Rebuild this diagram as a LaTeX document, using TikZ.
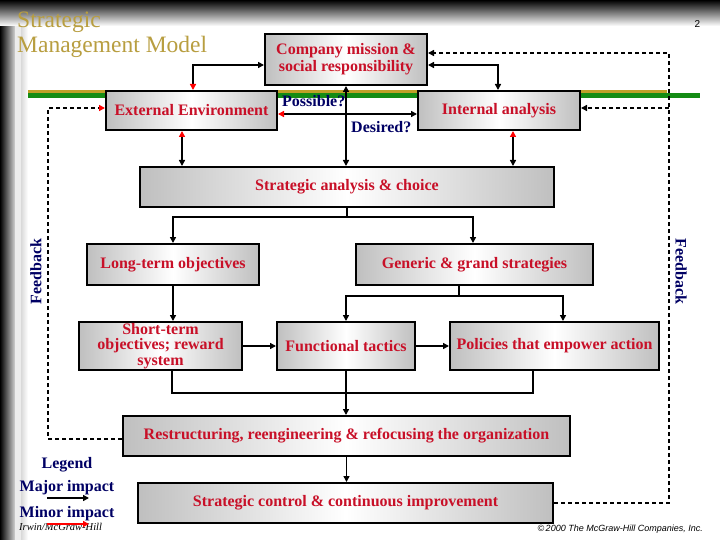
\documentclass[tikz,border=0pt]{standalone}
\usepackage{fontspec}
\setmainfont{Liberation Serif}
\newfontfamily\sansf{Liberation Sans}
\usetikzlibrary{arrows.meta,calc}
\definecolor{boxred}{RGB}{200,16,40}
\definecolor{navy}{RGB}{0,0,100}
\definecolor{titlegold}{RGB}{184,158,64}
\definecolor{linegold}{RGB}{190,160,40}
\definecolor{linegreen}{RGB}{20,140,20}
\tikzset{
  box/.style={draw=black, line width=2pt, left color=gray!50, right color=gray!50, middle color=white,
    text=boxred, font=\fontsize{16}{17}\selectfont\bfseries, align=center, inner sep=0pt},
  lbl/.style={text=navy, font=\fontsize{16}{17}\selectfont\bfseries, inner sep=0pt},
  conn/.style={draw=black, line width=1.8pt},
  fb/.style={draw=black, line width=2pt, dash pattern=on 4pt off 3pt},
  tipb/.style={arrows={-{Triangle[length=6pt,width=6pt]}}},
  tipr/.style={arrows={-{Triangle[length=6pt,width=6pt,color=red]}}},
  twobb/.style={arrows={{Triangle[length=6pt,width=6pt]}-{Triangle[length=6pt,width=6pt]}}},
  tworb/.style={arrows={{Triangle[length=6pt,width=6pt,color=red]}-{Triangle[length=6pt,width=6pt]}}}
}
\begin{document}
\begin{tikzpicture}[x=1pt,y=-1pt]
\useasboundingbox (0,0) rectangle (720,540);
\fill[white] (0,0) rectangle (720,540);
% frame
\shade[left color=black, right color=gray!35] (0,0) rectangle (15,540);
\fill[gray!15] (15,0) rectangle (28,540);
\shade[left color=gray!30, right color=white] (21,0) rectangle (28,540);
\shade[top color=black, bottom color=white] (0,0) rectangle (720,26);
% rules
\fill[linegold] (28,90) rectangle (667,93);
\fill[linegreen] (28,93) rectangle (700,98);

% title
\node[anchor=base west, inner sep=0pt, text=titlegold, font=\fontsize{23.5}{25}\selectfont] (t1) at (17,28) {Strategic};
\node[anchor=base west, inner sep=0pt, text=titlegold, font=\fontsize{23.5}{25}\selectfont] (t2) at (17,53) {Management Model};
\node[inner sep=0pt, font=\sansf\fontsize{10}{10}\selectfont] (pg) at (697.5,24) {2};

% boxes
\node[box, minimum width=162pt, minimum height=51pt] (mis) at (346,59.5) {Company mission \&\\social responsibility};
\node[box, minimum width=171pt, minimum height=39pt] (ext) at (191.5,110.5) {External Environment};
\node[box, minimum width=162pt, minimum height=39pt] (int) at (499,110.5) {Internal analysis};
\node[box, minimum width=414pt, minimum height=40pt] (sac) at (347,187) {Strategic analysis \& choice};
\node[box, minimum width=172pt, minimum height=41pt] (lto) at (173,264.5) {Long-term objectives};
\node[box, minimum width=237pt, minimum height=41pt] (gen) at (474.5,264.5) {Generic \& grand strategies};
\node[box, minimum width=163pt, minimum height=48pt, font=\fontsize{16}{15.5}\selectfont\bfseries] (sto) at (160.5,346) {Short-term\\objectives; reward\\system};
\node[box, minimum width=138pt, minimum height=48pt] (ft) at (346,346) {Functional tactics};
\node[box, minimum width=209pt, minimum height=48pt] (pol) at (554.5,346) {Policies that empower action};
\node[box, minimum width=447pt, minimum height=40pt] (res) at (346.5,436) {Restructuring, reengineering \& refocusing the organization};
\node[box, minimum width=415pt, minimum height=40pt] (sc) at (345.5,503) {Strategic control \& continuous improvement};

% labels
\node[lbl, anchor=base west] (pos) at (282,107) {Possible?};
\node[lbl, anchor=base west] (des) at (351,133) {Desired?};
\node[lbl, rotate=90] (fbl) at (36,271.5) {Feedback};
\node[lbl, rotate=-90] (fbr) at (681,271.5) {Feedback};
\node[lbl, anchor=base] (leg) at (67,468) {Legend};
\node[lbl, anchor=base] (maj) at (67,491) {Major impact};
\node[lbl, anchor=base] (min) at (67,517) {Minor impact};
\node[anchor=base west, inner sep=0pt, font=\itshape\fontsize{10.5}{11}\selectfont] (irw) at (19,530) {Irwin/McGraw-Hill};
\node[anchor=base east, inner sep=0pt, font=\sansf\itshape\fontsize{9}{10}\selectfont] (cpy) at (703,531) {\textcopyright\,2000 The McGraw-Hill Companies, Inc.};

% coordinates
\coordinate (j1) at (347,217);
\coordinate (j2) at (459,296);
\coordinate (j3) at (346,393);
\coordinate (fl) at (48,108);
\coordinate (fr) at (669,53);
\coordinate (fr2) at (669,108);
\coordinate (la1) at (47,498);
\coordinate (la2) at (89,498);
\coordinate (lb1) at (47,524);
\coordinate (lb2) at (89,524);

% connectors
\draw[conn, tworb] ([xshift=1.5pt]ext.north) |- ([yshift=-5.5pt]mis.west);
\draw[conn, twobb] ([xshift=-1pt]int.north) |- ([yshift=-5.5pt]mis.east);
\draw[conn, twobb] (mis.south) -- (mis.south |- sac.north);
\draw[conn, tworb] ([yshift=-3.5pt]ext.east) -- ([yshift=-3.5pt]int.west);
\draw[conn, tworb] ([xshift=-9.5pt]ext.south) -- ([xshift=-9.5pt]ext.south |- sac.north);
\draw[conn, tworb] ([xshift=14pt]int.south) -- ([xshift=14pt]int.south |- sac.north);
\draw[conn] (sac.south) -- (j1);
\draw[conn, tipb] (j1) -| (lto.north);
\draw[conn, tipb] (j1) -| ([xshift=-1.5pt]gen.north);
\draw[conn, tipb] (lto.south) -- (lto.south |- sto.north);
\draw[conn] ([xshift=-15.5pt]gen.south) -- (j2);
\draw[conn, tipb] (j2) -| (ft.north);
\draw[conn, tipb] (j2) -| ([xshift=8.5pt]pol.north);
\draw[conn, tipb] (sto.east) -- (ft.west);
\draw[conn, tipb] (ft.east) -- (pol.west);
\draw[conn] ([xshift=11.5pt]sto.south) |- (j3) -| ([xshift=-21.5pt]pol.south);
\draw[conn, tipb] (ft.south) -- (ft.south |- res.north);
\draw[conn, tipb] (res.south) -- (res.south |- sc.north);

% feedback
\draw[fb, tipr] ([yshift=-3pt]res.west) -| (fl) -- (fl -| ext.west);
\draw[fb, tipb] (sc.east) -| (fr) -- (fr -| mis.east);
\draw[fb, tipb] (fr2) -- (fr2 -| int.east);

% legend arrows
\draw[conn, tipb] (la1) -- (la2);
\draw[conn, draw=red, tipr] (lb1) -- (lb2);
\end{tikzpicture}
\end{document}
